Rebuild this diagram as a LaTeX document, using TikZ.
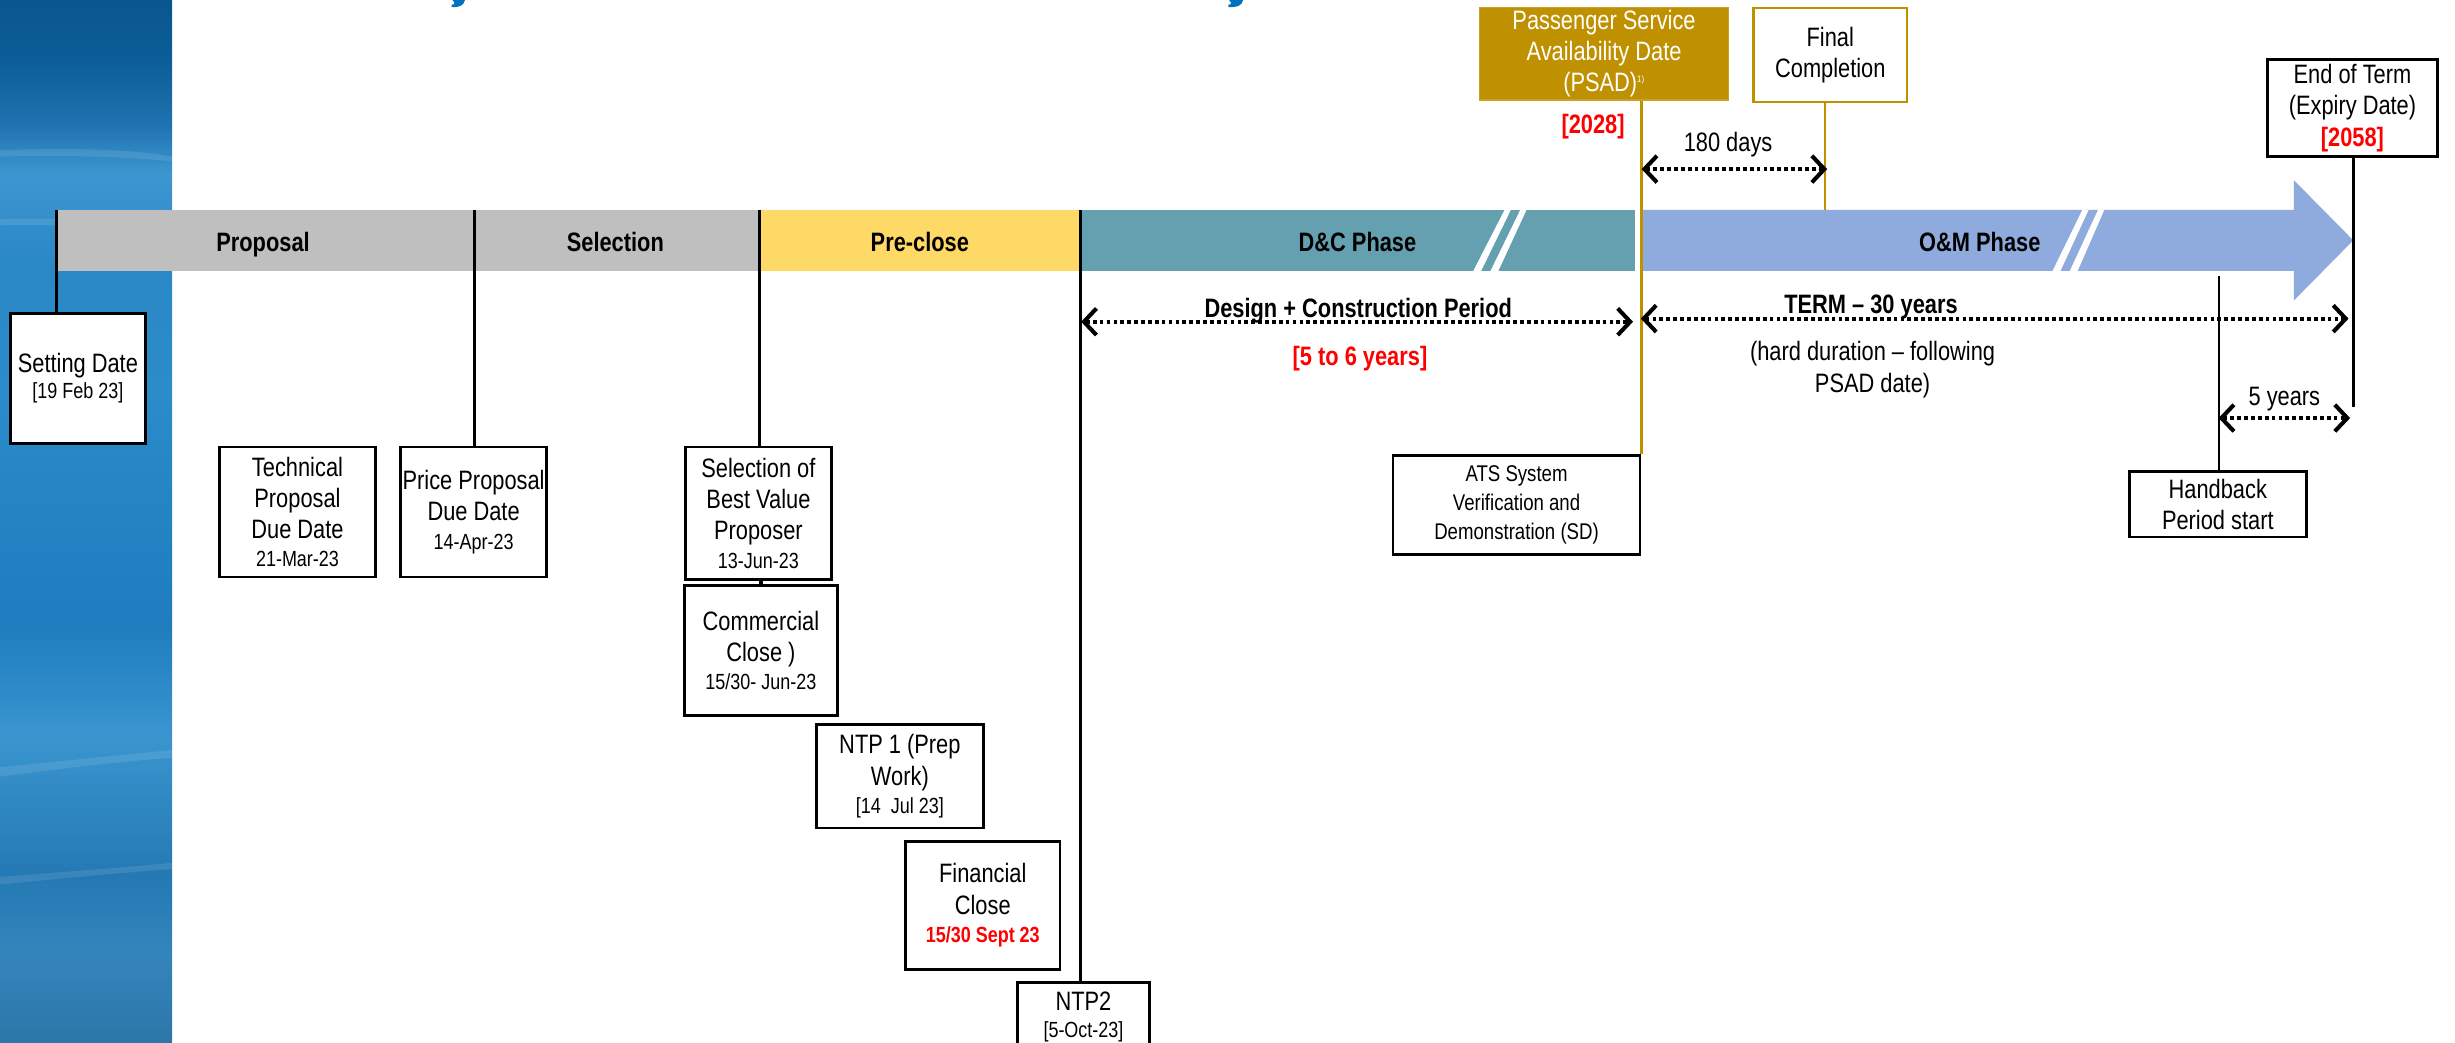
\documentclass[tikz,border=0pt]{standalone}
\usepackage{fontspec}
\setmainfont{Liberation Sans}[FakeStretch=0.82]
\usetikzlibrary{arrows.meta}
\definecolor{colgray}{HTML}{BFBFBF}
\definecolor{colyellow}{HTML}{FFD966}
\definecolor{colteal}{HTML}{64A0B0}
\definecolor{collblue}{HTML}{8FAADC}
\definecolor{colgold}{HTML}{BF9000}
\definecolor{coltitle}{HTML}{0070C0}
\definecolor{colred}{HTML}{FF0000}
\pgfdeclareverticalshading{leftstrip}{100bp}{%
 color(0bp)=(rgb,255:red,44;green,118;blue,169);
 color(25bp)=(rgb,255:red,44;green,118;blue,169);
 color(29.2bp)=(rgb,255:red,52;green,133;blue,187);
 color(33bp)=(rgb,255:red,36;green,121;blue,180);
 color(39.7bp)=(rgb,255:red,58;green,149;blue,207);
 color(45bp)=(rgb,255:red,31;green,125;blue,191);
 color(50.2bp)=(rgb,255:red,35;green,131;blue,195);
 color(56.2bp)=(rgb,255:red,44;green,139;blue,201);
 color(62.2bp)=(rgb,255:red,42;green,136;blue,199);
 color(66.7bp)=(rgb,255:red,61;green,150;blue,208);
 color(69bp)=(rgb,255:red,31;green,115;blue,176);
 color(72bp)=(rgb,255:red,12;green,94;blue,152);
 color(75bp)=(rgb,255:red,10;green,86;blue,144);
 color(100bp)=(rgb,255:red,10;green,86;blue,144)}
\newcommand\dsz{\fontsize{14}{16}\selectfont}
\tikzset{
 box/.style={draw=black, line width=1.8pt, fill=white, align=center, inner sep=0pt, font=\fontsize{17}{20}\selectfont},
 barlabel/.style={font=\bfseries\fontsize{17}{20}\selectfont, inner sep=0pt, anchor=base},
 lbl/.style={font=\fontsize{17}{20}\selectfont, inner sep=0pt, align=center},
 vline/.style={draw=black, line width=2pt},
 goldline/.style={draw=colgold, line width=1.4pt},
 barb/.tip={Straight Barb[length=8pt,width=17pt,line width=2.6pt]},
 dimarrow/.style={line width=2.6pt, dash pattern=on 2.4pt off 2pt, barb-barb},
}
\begin{document}
\begin{tikzpicture}[x=1pt,y=-1pt]
\useasboundingbox (0,0) rectangle (1568,666);
\begin{scope}
\clip (0,0) rectangle (1568,666);
\fill[white] (0,0) rectangle (1568,666);
% left decorative strip
\shade[shading=leftstrip] (0,0) rectangle (110,666);
\begin{scope}[white, opacity=0.1]
\fill (0,96) .. controls (50,94) and (90,96) .. (110,100) -- (110,103) .. controls (80,100) and (40,99) .. (0,100) -- cycle;
\fill (0,140) .. controls (40,139) and (80,141) .. (110,145) -- (110,148) .. controls (70,145) and (30,143) .. (0,144) -- cycle;
\fill (0,490) .. controls (40,486) and (80,482) .. (110,479) -- (110,484) .. controls (70,487) and (40,491) .. (0,496) -- cycle;
\fill (0,560) .. controls (40,557) and (80,554) .. (110,551) -- (110,555) .. controls (70,558) and (40,561) .. (0,565) -- cycle;
\end{scope}
% remnants of the title
\fill[coltitle] (289,0) -- (297,0) .. controls (296,3.5) and (294,4.6) .. (288.5,4.6) -- (288.5,3) .. controls (290.5,3) and (291,2) .. (289,0) -- cycle;
\fill[coltitle] (785,0) -- (794,0) .. controls (793,3.5) and (791,4.6) .. (784.5,4.6) -- (784.5,3) .. controls (786.5,3) and (787,2) .. (785,0) -- cycle;
% timeline bar
\fill[fill=colgray] (36,134) rectangle (485,173);
\fill[fill=colyellow] (485,134) rectangle (690,173);
\fill[fill=colteal] (690,134) rectangle (1044,173);
\fill[white] (941,173) -- (946,173) -- (965,134) -- (961,134) -- cycle;
\fill[white] (952,173) -- (957,173) -- (975,134) -- (971,134) -- cycle;
\fill[fill=collblue] (1049,134) -- (1465,134) -- (1465,115) -- (1503,153.5) -- (1465,192) -- (1465,173) -- (1049,173) -- cycle;
\fill[white] (1311,173) -- (1316,173) -- (1334,134) -- (1330,134) -- cycle;
\fill[white] (1322,173) -- (1327,173) -- (1344,134) -- (1340,134) -- cycle;
\node[barlabel] (lprop) at (168,160.5) {Proposal};
\node[barlabel] (lsel) at (393,160.5) {Selection};
\node[barlabel] (lpre) at (587.5,160.5) {Pre-close};
\node[barlabel] (ldc) at (867,160.5) {D\&C Phase};
\node[barlabel] (lom) at (1264.5,160.5) {O\&M Phase};
% milestone boxes
\node[box, minimum width=86.5pt, minimum height=83pt] (setting) at (49.75,241.5) {Setting Date\\[-3pt]{\dsz [19 Feb 23]}};
\node[box, minimum width=100pt, minimum height=83pt] (tech) at (190,327) {Technical\\Proposal\\Due Date\\[-2pt]{\dsz 21-Mar-23}};
\node[box, minimum width=93pt, minimum height=83pt] (price) at (302.5,327) {Price Proposal\\Due Date\\[-2pt]{\dsz 14-Apr-23}};
\node[box, minimum width=93.3pt, minimum height=84.5pt] (sel) at (484.4,327.75) {Selection of\\Best Value\\Proposer\\[-2pt]{\dsz 13-Jun-23}};
\node[box, minimum width=98pt, minimum height=83pt] (comm) at (486,415.5) {Commercial\\Close )\\[-2pt]{\dsz 15/30- Jun-23}};
\node[box, minimum width=106.5pt, minimum height=66pt] (ntp1) at (574.75,495.8) {NTP 1 (Prep\\Work)\\[-2pt]{\dsz [14~~Jul 23]}};
\node[box, minimum width=98.6pt, minimum height=81.6pt] (fin) at (627.7,578.2) {Financial\\Close\\[-2pt]{\dsz\bfseries\color{colred}15/30 Sept 23}};
\node[box, minimum width=84pt, minimum height=44pt] (ntp2) at (692,649.6) {NTP2\\[-3pt]{\dsz [5-Oct-23]}};
\node[box, minimum width=157.8pt, minimum height=63.3pt, font=\fontsize{14.5}{18.5}\selectfont] (ats) at (968.6,322.35) {ATS System\\Verification and\\Demonstration (SD)};
\node[box, minimum width=113pt, minimum height=42pt] (hand) at (1416.5,322) {Handback\\Period start};
\node[box, minimum width=109pt, minimum height=62pt] (endt) at (1502.5,69) {End of Term\\(Expiry Date)\\{\bfseries\color{colred}[2058]}};
\node[box, draw=colgold!85!white, line width=1pt, fill=colgold, text=white, minimum width=159pt, minimum height=59.3pt] (psad) at (1024.5,34.35) {Passenger Service\\Availability Date\\(PSAD)\textsuperscript{\fontsize{6}{6}\selectfont 1)}};
\node[box, draw=colgold, line width=1.6pt, minimum width=98pt, minimum height=60pt] (final) at (1169,35) {Final\\Completion};
% connectors from the timeline to the boxes
\coordinate (b1) at (36,134);
\coordinate (b2) at (303,134);
\coordinate (b3) at (485,134);
\coordinate (b4) at (690,134);
\coordinate (g2) at (1165.5,134);
\coordinate (h1) at (1417,176);
\coordinate (e1) at (1503,260);
\draw[vline] (b1) -- (b1 |- setting.north);
\draw[vline] (b2) -- (b2 |- price.north);
\draw[vline] (b3) -- (b3 |- sel.north);
\draw[vline] (b4) -- (b4 |- ntp2.north);
\draw[vline] (sel.south -| comm.north) -- (comm.north);
\draw[goldline] (ats.north east) -- (ats.north east |- psad.south);
\draw[goldline] (g2) -- (g2 |- final.south);
\draw[draw=black, line width=1.4pt] (h1) -- (h1 |- hand.north);
\draw[vline] (endt.south -| e1) -- (e1);
% duration arrows
\coordinate (dcL) at (690.5,205.5);
\coordinate (dcR) at (1043,205.5);
\coordinate (tmL) at (1048,203.5);
\coordinate (tmR) at (1500,203.5);
\coordinate (fcL) at (1048.5,108);
\coordinate (fcR) at (1167,108);
\coordinate (hbL) at (1417,267);
\coordinate (hbR) at (1501,267);
\draw[dimarrow] (dcL) -- (dcR);
\draw[dimarrow] (tmL) -- (tmR);
\draw[dimarrow] (fcL) -- (fcR);
\draw[dimarrow] (hbL) -- (hbR);
% labels
\node[barlabel] (ldcp) at (867.5,203) {Design + Construction Period};
\node[barlabel, text=colred] (ldcy) at (868.6,233.4) {[5 to 6 years]};
\node[barlabel] (lterm) at (1195,200) {TERM – 30 years};
\node[lbl] (lhard) at (1196,236) {(hard duration – following\\PSAD date)};
\node[barlabel, text=colred] (l2028) at (1017.5,85) {[2028]};
\node[lbl, anchor=base] (l180) at (1103.7,96.5) {180 days};
\node[lbl, anchor=base] (l5y) at (1459,259) {5 years};
\end{scope}
\end{tikzpicture}
\end{document}
